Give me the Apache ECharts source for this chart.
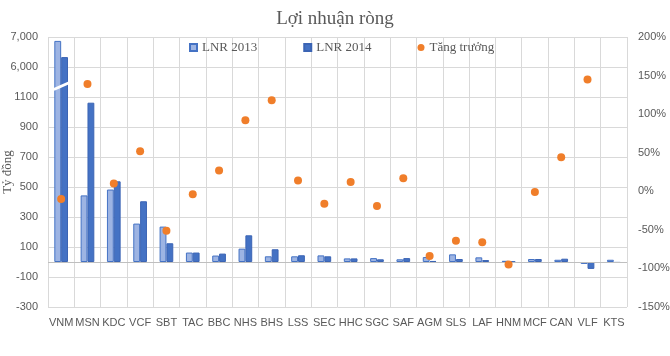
<!DOCTYPE html>
<html>
<head>
<meta charset="utf-8">
<script src="https://cdn.jsdelivr.net/npm/echarts@6/dist/echarts.min.js"></script>
<style>html,body{margin:0;padding:0;background:#fff;}#c{width:670px;height:356px;}</style>
</head>
<body>
<div id="c"></div>
<script>
// ---- data ----
const categories = ['VNM','MSN','KDC','VCF','SBT','TAC','BBC','NHS','BHS','LSS','SEC','HHC','SGC','SAF','AGM','SLS','LAF','HNM','MCF','CAN','VLF','KTS'];
const lnr2013 = [6870, 444, 483, 256, 236, 63, 43, 89, 38, 38, 44, 24, 26, 18, 33, 51, 31, 8, 20, 15, -13, 15];
const lnr2014 = [6330, 1062, 538, 405, 125, 63, 56, 178, 85, 45, 38, 24, 18, 26, 7, 20, 13, 3, 20, 22, -46, -6];
const growth = [-10, 139, 10, 52, -51, -4, 27, 92, 118, 14, -16, 12, -19, 17, -84, -64, -66, -95, -1, 44, 145, null];
const leftTickLabels = ['-300','-100','100','300','500','700','900','1100','6,000','7,000'];
const rightTickLabels = ['-150%','-100%','-50%','0%','50%','100%','150%','200%'];

// broken axis: values above the break (6,000+) are compressed onto the axis
const BREAK_AXIS = 1300, BREAK_REAL = 6000, BREAK_SCALE = 5;
function toAxis(v) { return v > 2000 ? BREAK_AXIS + (v - BREAK_REAL) / BREAK_SCALE : v; }

const chart = echarts.init(document.getElementById('c'), null, {renderer: 'canvas'});
const serif = '"Liberation Serif", "DejaVu Serif", serif';
const sans = '"Liberation Sans", Arial, sans-serif';
const gridColor = '#D9D9D9';
const txt = '#595959';

chart.setOption({
  animation: false,
  backgroundColor: '#fff',
  title: {
    text: 'Lợi nhuận ròng', left: 'center', top: 5,
    textStyle: {fontFamily: serif, fontSize: 19, fontWeight: 'normal', color: txt}
  },
  legend: {
    left: 184, top: 36, itemWidth: 7, itemHeight: 7, itemGap: 46,
    textStyle: {fontFamily: serif, fontSize: 13, color: txt},
    data: [
      {name: 'LNR 2013', icon: 'rect'},
      {name: 'LNR 2014', icon: 'rect'},
      {name: 'Tăng trưởng', icon: 'circle'}
    ]
  },
  grid: {left: 48, right: 43, top: 37, bottom: 49, containLabel: false, outerBoundsMode: 'none'},
  xAxis: {
    type: 'category', data: categories,
    axisLine: {show: false, onZero: false},
    axisTick: {show: false},
    splitLine: {show: true, lineStyle: {color: gridColor, width: 1}},
    axisLabel: {fontFamily: sans, fontSize: 11, color: txt, margin: 10, interval: 0}
  },
  yAxis: [{
    type: 'value', min: -300, max: 1500, interval: 200,
    name: 'Tỷ đồng', nameLocation: 'middle', nameGap: 34, nameRotate: 90,
    nameMoveOverlap: false,
    nameTextStyle: {fontFamily: serif, fontSize: 13, color: txt},
    axisLine: {show: false}, axisTick: {show: false},
    splitLine: {show: true, lineStyle: {color: gridColor, width: 1}},
    axisLabel: {fontFamily: sans, fontSize: 11, color: txt, margin: 10,
      formatter: function (v, i) { return leftTickLabels[i]; }}
  }, {
    type: 'value', min: -150, max: 200, interval: 50, position: 'right',
    axisLine: {show: false}, axisTick: {show: false}, splitLine: {show: false},
    axisLabel: {fontFamily: sans, fontSize: 11, color: txt, margin: 11,
      formatter: function (v, i) { return rightTickLabels[i]; }}
  }],
  series: [{
    name: 'LNR 2013', type: 'bar', barWidth: '26%', barGap: '0%',
    data: lnr2013.map(toAxis),
    itemStyle: {color: '#9DB4E3', borderColor: '#4472C4', borderWidth: 1},
    markLine: {
      silent: true, symbol: 'none', label: {show: false},
      lineStyle: {color: '#BFBFBF', width: 1, type: 'solid'},
      data: [{yAxis: 0}]
    },
    z: 2
  }, {
    name: 'LNR 2014', type: 'bar', barWidth: '26%', barGap: '0%',
    data: lnr2014.map(toAxis),
    itemStyle: {color: '#4472C4', borderColor: '#3B64B4', borderWidth: 1},
    z: 2
  }, {
    name: 'Tăng trưởng', type: 'scatter', yAxisIndex: 1,
    data: growth, symbolSize: 8,
    itemStyle: {color: '#F07E2A', opacity: 1},
    z: 5
  }]
});

// break marker on the VNM bars
(function () {
  const a = chart.convertToPixel({xAxisIndex: 0, yAxisIndex: 0}, [categories[0], 1150]);
  const b = chart.convertToPixel({xAxisIndex: 0, yAxisIndex: 0}, [categories[0], 1195]);
  const bw = chart.convertToPixel({xAxisIndex: 0, yAxisIndex: 0}, [categories[1], 0])[0] - a[0];
  chart.setOption({
    graphic: [{
      type: 'line', z: 10,
      shape: {x1: a[0] - bw * 0.28, y1: a[1], x2: a[0] + bw * 0.3, y2: b[1]},
      style: {stroke: '#fff', lineWidth: 3}
    }]
  });
})();
</script>
</body>
</html>
